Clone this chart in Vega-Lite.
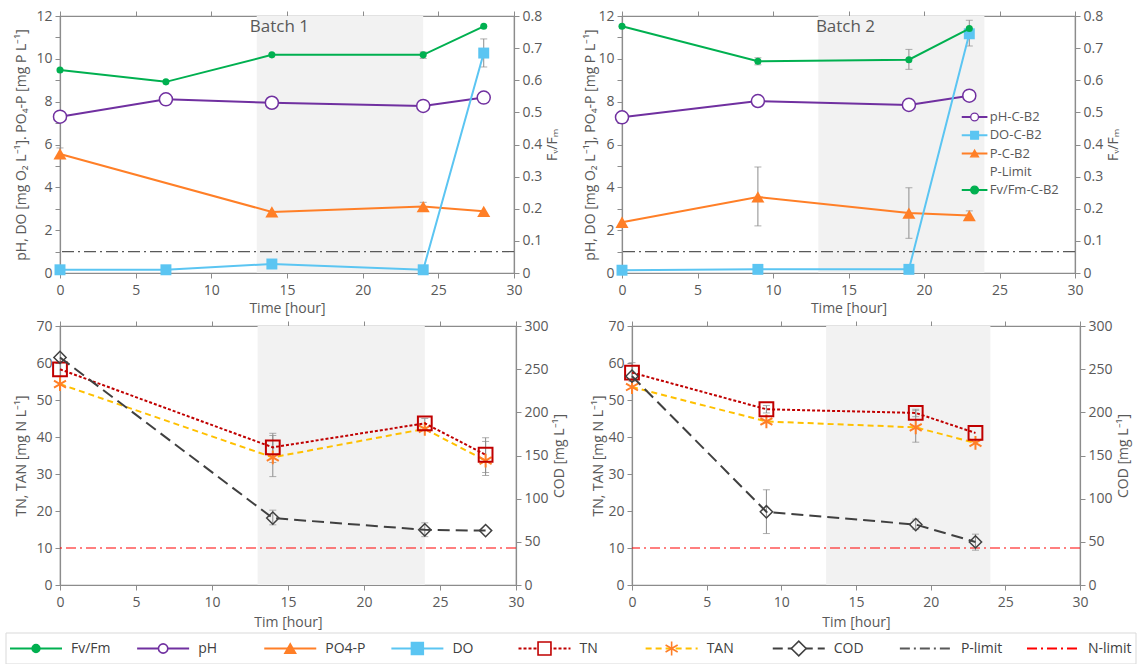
{
  "$schema": "https://vega.github.io/schema/vega-lite/v6.json",
  "background": "white",
  "padding": {"left": 5, "top": 8, "right": 3, "bottom": 0},
  "config": {
    "font": "Open Sans",
    "view": {"stroke": null},
    "axis": {
      "grid": false,
      "domainColor": "#8c8c8c",
      "tickColor": "#8c8c8c",
      "domainWidth": 1.2,
      "labelColor": "#595959",
      "titleColor": "#595959",
      "labelFontSize": 14,
      "titleFontSize": 14,
      "titleFontWeight": "normal",
      "tickSize": 5,
      "labelPadding": 3,
      "labelFlush": false,
      "labelOverlap": false
    },
    "axisX": {"labelPadding": 5}
  },
  "datasets": {
    "batch1": [
      {"t": 0, "s": "pH", "v": 7.3}, {"t": 7, "s": "pH", "v": 8.11}, {"t": 14, "s": "pH", "v": 7.95}, {"t": 24, "s": "pH", "v": 7.8}, {"t": 28, "s": "pH", "v": 8.19},
      {"t": 0, "s": "PO4-P", "v": 5.56}, {"t": 14, "s": "PO4-P", "v": 2.85}, {"t": 24, "s": "PO4-P", "v": 3.1}, {"t": 28, "s": "PO4-P", "v": 2.88},
      {"t": 0, "s": "DO", "v": 0.15}, {"t": 7, "s": "DO", "v": 0.15}, {"t": 14, "s": "DO", "v": 0.42}, {"t": 24, "s": "DO", "v": 0.15}, {"t": 28, "s": "DO", "v": 10.27},
      {"t": 0, "s": "Fv/Fm", "v": 0.632}, {"t": 7, "s": "Fv/Fm", "v": 0.595}, {"t": 14, "s": "Fv/Fm", "v": 0.679}, {"t": 24, "s": "Fv/Fm", "v": 0.679}, {"t": 28, "s": "Fv/Fm", "v": 0.768}
    ],
    "batch1_err": [
      {"t": 0, "s": "PO4-P", "lo": 5.4, "hi": 5.84},
      {"t": 24, "s": "PO4-P", "lo": 2.95, "hi": 3.3},
      {"t": 28, "s": "DO", "lo": 9.62, "hi": 10.93},
      {"t": 24, "s": "Fv/Fm", "lo": 0.668, "hi": 0.688}
    ],
    "batch2": [
      {"t": 0, "s": "pH", "v": 7.27}, {"t": 9, "s": "pH", "v": 8.03}, {"t": 19, "s": "pH", "v": 7.85}, {"t": 23, "s": "pH", "v": 8.28},
      {"t": 0, "s": "PO4-P", "v": 2.37}, {"t": 9, "s": "PO4-P", "v": 3.55}, {"t": 19, "s": "PO4-P", "v": 2.8}, {"t": 23, "s": "PO4-P", "v": 2.68},
      {"t": 0, "s": "DO", "v": 0.13}, {"t": 9, "s": "DO", "v": 0.17}, {"t": 19, "s": "DO", "v": 0.17}, {"t": 23, "s": "DO", "v": 11.17},
      {"t": 0, "s": "Fv/Fm", "v": 0.768}, {"t": 9, "s": "Fv/Fm", "v": 0.659}, {"t": 19, "s": "Fv/Fm", "v": 0.664}, {"t": 23, "s": "Fv/Fm", "v": 0.761}
    ],
    "batch2_err": [
      {"t": 9, "s": "PO4-P", "lo": 2.2, "hi": 4.95},
      {"t": 19, "s": "PO4-P", "lo": 1.62, "hi": 3.98},
      {"t": 23, "s": "PO4-P", "lo": 2.52, "hi": 2.9},
      {"t": 23, "s": "DO", "lo": 10.6, "hi": 11.8},
      {"t": 9, "s": "Fv/Fm", "lo": 0.648, "hi": 0.67},
      {"t": 19, "s": "Fv/Fm", "lo": 0.634, "hi": 0.696}
    ],
    "nitro1": [
      {"t": 0, "s": "TN", "v": 58.3}, {"t": 14, "s": "TN", "v": 37.2}, {"t": 24, "s": "TN", "v": 43.7}, {"t": 28, "s": "TN", "v": 35.2},
      {"t": 0, "s": "TAN", "v": 54.3}, {"t": 14, "s": "TAN", "v": 34.5}, {"t": 24, "s": "TAN", "v": 42.2}, {"t": 28, "s": "TAN", "v": 33.6},
      {"t": 0, "s": "COD", "v": 263.6}, {"t": 14, "s": "COD", "v": 77.5}, {"t": 24, "s": "COD", "v": 63.9}, {"t": 28, "s": "COD", "v": 63.0}
    ],
    "nitro1_err": [
      {"t": 14, "s": "TN", "lo": 33.1, "hi": 41.0},
      {"t": 14, "s": "TAN", "lo": 29.3, "hi": 40.4},
      {"t": 24, "s": "TN", "lo": 42.5, "hi": 45.0},
      {"t": 28, "s": "TN", "lo": 30.4, "hi": 39.8},
      {"t": 28, "s": "TAN", "lo": 29.6, "hi": 38.8},
      {"t": 14, "s": "COD", "lo": 69.7, "hi": 86.7},
      {"t": 24, "s": "COD", "lo": 56.0, "hi": 72.0}
    ],
    "nitro2": [
      {"t": 0, "s": "TN", "v": 57.4}, {"t": 9, "s": "TN", "v": 47.5}, {"t": 19, "s": "TN", "v": 46.5}, {"t": 23, "s": "TN", "v": 41.1},
      {"t": 0, "s": "TAN", "v": 53.5}, {"t": 9, "s": "TAN", "v": 44.2}, {"t": 19, "s": "TAN", "v": 42.6}, {"t": 23, "s": "TAN", "v": 38.4},
      {"t": 0, "s": "COD", "v": 241.9}, {"t": 9, "s": "COD", "v": 84.8}, {"t": 19, "s": "COD", "v": 70.0}, {"t": 23, "s": "COD", "v": 49.9}
    ],
    "nitro2_err": [
      {"t": 0, "s": "TN", "lo": 55.0, "hi": 60.1},
      {"t": 9, "s": "TN", "lo": 46.5, "hi": 48.5},
      {"t": 19, "s": "TN", "lo": 45.5, "hi": 47.5},
      {"t": 19, "s": "TAN", "lo": 38.6, "hi": 47.2},
      {"t": 9, "s": "COD", "lo": 59.6, "hi": 110.3},
      {"t": 19, "s": "COD", "lo": 64.6, "hi": 76.3},
      {"t": 23, "s": "COD", "lo": 40.3, "hi": 58.9}
    ]
  },
  "resolve": {"scale": {"color": "independent", "fill": "independent", "stroke": "independent", "shape": "independent", "size": "independent", "strokeDash": "independent"}},
  "spacing": 2,
  "vconcat": [
    {
      "spacing": 22,
      "hconcat": [
        {
          "width": 454, "height": 257,
          "view": {"stroke": "#8c8c8c", "strokeWidth": 1.2},
          "resolve": {"scale": {"y": "independent"}},
          "layer": [
            {"data": {"values": [{"t": 13, "t2": 24}]}, "mark": {"type": "rect", "color": "#f2f2f2"},
             "encoding": {"x": {"field": "t", "type": "quantitative", "scale": {"domain": [0, 30], "nice": false}, "axis": {"orient": "bottom", "values": [0, 5, 10, 15, 20, 25, 30], "title": "Time [hour]", "titlePadding": 4}}, "x2": {"field": "t2"}}},
            {"data": {"values": [{"limit": 1}]}, "mark": {"type": "rule", "color": "#595959", "strokeWidth": 1.2, "strokeDash": [12, 4, 2, 4]},
             "encoding": {"y": {"field": "limit", "type": "quantitative", "scale": {"domain": [0, 12], "nice": false}, "axis": {"orient": "left", "values": [0, 1, 2, 3, 4, 5, 6, 7, 8, 9, 10, 11, 12], "labelExpr": "datum.value % 2 === 0 ? datum.label : ''", "title": "pH, DO [mg O₂ L⁻¹]. PO₄-P [mg P L⁻¹]", "titlePadding": 7}}}},
            {"data": {"name": "batch1_err"}, "transform": [{"filter": "datum.s !== 'Fv/Fm'"}],
             "mark": {"type": "rule", "color": "#8c8c8c", "strokeWidth": 1},
             "encoding": {"x": {"field": "t", "type": "quantitative", "scale": {"domain": [0, 30], "nice": false}, "axis": null}, "y": {"field": "lo", "type": "quantitative", "scale": {"domain": [0, 12], "nice": false}, "axis": null}, "y2": {"field": "hi"}}},
            {"data": {"name": "batch1_err"}, "transform": [{"filter": "datum.s !== 'Fv/Fm'"}],
             "mark": {"type": "tick", "orient": "horizontal", "color": "#8c8c8c", "size": 7, "thickness": 1},
             "encoding": {"x": {"field": "t", "type": "quantitative", "scale": {"domain": [0, 30], "nice": false}, "axis": null}, "y": {"field": "lo", "type": "quantitative", "scale": {"domain": [0, 12], "nice": false}, "axis": null}}},
            {"data": {"name": "batch1_err"}, "transform": [{"filter": "datum.s !== 'Fv/Fm'"}],
             "mark": {"type": "tick", "orient": "horizontal", "color": "#8c8c8c", "size": 7, "thickness": 1},
             "encoding": {"x": {"field": "t", "type": "quantitative", "scale": {"domain": [0, 30], "nice": false}, "axis": null}, "y": {"field": "hi", "type": "quantitative", "scale": {"domain": [0, 12], "nice": false}, "axis": null}}},
            {"data": {"name": "batch1"}, "transform": [{"filter": "datum.s === 'PO4-P'"}],
             "mark": {"type": "line", "color": "#ff7f27", "strokeWidth": 2, "point": {"filled": true, "shape": "triangle-up", "size": 170, "color": "#ff7f27"}},
             "encoding": {"x": {"field": "t", "type": "quantitative", "scale": {"domain": [0, 30], "nice": false}, "axis": null}, "y": {"field": "v", "type": "quantitative", "scale": {"domain": [0, 12], "nice": false}, "axis": null}}},
            {"data": {"name": "batch1"}, "transform": [{"filter": "datum.s === 'pH'"}],
             "mark": {"type": "line", "color": "#7030a0", "strokeWidth": 2, "point": {"filled": true, "fill": "white", "stroke": "#7030a0", "strokeWidth": 1.5, "size": 170}},
             "encoding": {"x": {"field": "t", "type": "quantitative", "scale": {"domain": [0, 30], "nice": false}, "axis": null}, "y": {"field": "v", "type": "quantitative", "scale": {"domain": [0, 12], "nice": false}, "axis": null}}},
            {"data": {"name": "batch1"}, "transform": [{"filter": "datum.s === 'DO'"}],
             "mark": {"type": "line", "color": "#5bc5f2", "strokeWidth": 2, "point": {"filled": true, "shape": "square", "size": 120, "color": "#5bc5f2"}},
             "encoding": {"x": {"field": "t", "type": "quantitative", "scale": {"domain": [0, 30], "nice": false}, "axis": null}, "y": {"field": "v", "type": "quantitative", "scale": {"domain": [0, 12], "nice": false}, "axis": null}}},
            {"data": {"values": [{"batch": "Batch 1"}]}, "mark": {"type": "text", "fontSize": 17, "color": "#595959"},
             "encoding": {"x": {"datum": 14.5, "type": "quantitative", "scale": {"domain": [0, 30], "nice": false}, "axis": null}, "y": {"datum": 11.5, "type": "quantitative", "scale": {"domain": [0, 12], "nice": false}, "axis": null}, "text": {"field": "batch"}}},
            {"data": {"name": "batch1_err"}, "transform": [{"filter": "datum.s === 'Fv/Fm'"}],
             "mark": {"type": "rule", "color": "#8c8c8c", "strokeWidth": 1},
             "encoding": {"x": {"field": "t", "type": "quantitative", "scale": {"domain": [0, 30], "nice": false}, "axis": null}, "y": {"field": "lo", "type": "quantitative", "scale": {"domain": [0, 0.8], "nice": false}, "axis": null}, "y2": {"field": "hi"}}},
            {"data": {"name": "batch1_err"}, "transform": [{"filter": "datum.s === 'Fv/Fm'"}],
             "mark": {"type": "tick", "orient": "horizontal", "color": "#8c8c8c", "size": 7, "thickness": 1},
             "encoding": {"x": {"field": "t", "type": "quantitative", "scale": {"domain": [0, 30], "nice": false}, "axis": null}, "y": {"field": "lo", "type": "quantitative", "scale": {"domain": [0, 0.8], "nice": false}, "axis": null}}},
            {"data": {"name": "batch1_err"}, "transform": [{"filter": "datum.s === 'Fv/Fm'"}],
             "mark": {"type": "tick", "orient": "horizontal", "color": "#8c8c8c", "size": 7, "thickness": 1},
             "encoding": {"x": {"field": "t", "type": "quantitative", "scale": {"domain": [0, 30], "nice": false}, "axis": null}, "y": {"field": "hi", "type": "quantitative", "scale": {"domain": [0, 0.8], "nice": false}, "axis": null}}},
            {"data": {"name": "batch1"}, "transform": [{"filter": "datum.s === 'Fv/Fm'"}],
             "mark": {"type": "line", "color": "#00b050", "strokeWidth": 2, "point": {"filled": true, "size": 50, "color": "#00b050"}},
             "encoding": {
               "x": {"field": "t", "type": "quantitative", "scale": {"domain": [0, 30], "nice": false}, "axis": {"orient": "top", "values": [0, 5, 10, 15, 20, 25, 30], "labels": false, "title": null}},
               "y": {"field": "v", "type": "quantitative", "scale": {"domain": [0, 0.8], "nice": false}, "axis": {"orient": "right", "values": [0, 0.1, 0.2, 0.3, 0.4, 0.5, 0.6, 0.7, 0.8], "labelExpr": "datum.value === 0 ? '0' : format(datum.value, '.1f')", "title": "Fᵥ/Fₘ", "titleAngle": 270, "titleBaseline": "top", "titlePadding": 4}}
             }}
          ]
        },
        {
          "width": 453, "height": 257,
          "view": {"stroke": "#8c8c8c", "strokeWidth": 1.2},
          "resolve": {"scale": {"y": "independent"}},
          "layer": [
            {"data": {"values": [{"t": 13, "t2": 24}]}, "mark": {"type": "rect", "color": "#f2f2f2"},
             "encoding": {"x": {"field": "t", "type": "quantitative", "scale": {"domain": [0, 30], "nice": false}, "axis": {"orient": "bottom", "values": [0, 5, 10, 15, 20, 25, 30], "title": "Time [hour]", "titlePadding": 4}}, "x2": {"field": "t2"}}},
            {"data": {"values": [{"limit": 1}]}, "mark": {"type": "rule", "color": "#595959", "strokeWidth": 1.2, "strokeDash": [12, 4, 2, 4]},
             "encoding": {"y": {"field": "limit", "type": "quantitative", "scale": {"domain": [0, 12], "nice": false}, "axis": {"orient": "left", "values": [0, 1, 2, 3, 4, 5, 6, 7, 8, 9, 10, 11, 12], "labelExpr": "datum.value % 2 === 0 ? datum.label : ''", "title": "pH, DO [mg O₂ L⁻¹], PO₄-P [mg P L⁻¹]", "titlePadding": 0}}}},
            {"data": {"name": "batch2_err"}, "transform": [{"filter": "datum.s !== 'Fv/Fm'"}],
             "mark": {"type": "rule", "color": "#8c8c8c", "strokeWidth": 1},
             "encoding": {"x": {"field": "t", "type": "quantitative", "scale": {"domain": [0, 30], "nice": false}, "axis": null}, "y": {"field": "lo", "type": "quantitative", "scale": {"domain": [0, 12], "nice": false}, "axis": null}, "y2": {"field": "hi"}}},
            {"data": {"name": "batch2_err"}, "transform": [{"filter": "datum.s !== 'Fv/Fm'"}],
             "mark": {"type": "tick", "orient": "horizontal", "color": "#8c8c8c", "size": 7, "thickness": 1},
             "encoding": {"x": {"field": "t", "type": "quantitative", "scale": {"domain": [0, 30], "nice": false}, "axis": null}, "y": {"field": "lo", "type": "quantitative", "scale": {"domain": [0, 12], "nice": false}, "axis": null}}},
            {"data": {"name": "batch2_err"}, "transform": [{"filter": "datum.s !== 'Fv/Fm'"}],
             "mark": {"type": "tick", "orient": "horizontal", "color": "#8c8c8c", "size": 7, "thickness": 1},
             "encoding": {"x": {"field": "t", "type": "quantitative", "scale": {"domain": [0, 30], "nice": false}, "axis": null}, "y": {"field": "hi", "type": "quantitative", "scale": {"domain": [0, 12], "nice": false}, "axis": null}}},
            {"data": {"name": "batch2"}, "transform": [{"filter": "datum.s === 'PO4-P'"}],
             "mark": {"type": "line", "color": "#ff7f27", "strokeWidth": 2, "point": {"filled": true, "shape": "triangle-up", "size": 170, "color": "#ff7f27"}},
             "encoding": {"x": {"field": "t", "type": "quantitative", "scale": {"domain": [0, 30], "nice": false}, "axis": null}, "y": {"field": "v", "type": "quantitative", "scale": {"domain": [0, 12], "nice": false}, "axis": null}}},
            {"data": {"name": "batch2"}, "transform": [{"filter": "datum.s === 'pH'"}],
             "mark": {"type": "line", "color": "#7030a0", "strokeWidth": 2, "point": {"filled": true, "fill": "white", "stroke": "#7030a0", "strokeWidth": 1.5, "size": 170}},
             "encoding": {"x": {"field": "t", "type": "quantitative", "scale": {"domain": [0, 30], "nice": false}, "axis": null}, "y": {"field": "v", "type": "quantitative", "scale": {"domain": [0, 12], "nice": false}, "axis": null}}},
            {"data": {"name": "batch2"}, "transform": [{"filter": "datum.s === 'DO'"}],
             "mark": {"type": "line", "color": "#5bc5f2", "strokeWidth": 2, "point": {"filled": true, "shape": "square", "size": 120, "color": "#5bc5f2"}},
             "encoding": {"x": {"field": "t", "type": "quantitative", "scale": {"domain": [0, 30], "nice": false}, "axis": null}, "y": {"field": "v", "type": "quantitative", "scale": {"domain": [0, 12], "nice": false}, "axis": null}}},
            {"data": {"values": [{"batch": "Batch 2"}]}, "mark": {"type": "text", "fontSize": 17, "color": "#595959"},
             "encoding": {"x": {"datum": 14.8, "type": "quantitative", "scale": {"domain": [0, 30], "nice": false}, "axis": null}, "y": {"datum": 11.5, "type": "quantitative", "scale": {"domain": [0, 12], "nice": false}, "axis": null}, "text": {"field": "batch"}}},
            {"data": {"name": "batch2_err"}, "transform": [{"filter": "datum.s === 'Fv/Fm'"}],
             "mark": {"type": "rule", "color": "#8c8c8c", "strokeWidth": 1},
             "encoding": {"x": {"field": "t", "type": "quantitative", "scale": {"domain": [0, 30], "nice": false}, "axis": null}, "y": {"field": "lo", "type": "quantitative", "scale": {"domain": [0, 0.8], "nice": false}, "axis": null}, "y2": {"field": "hi"}}},
            {"data": {"name": "batch2_err"}, "transform": [{"filter": "datum.s === 'Fv/Fm'"}],
             "mark": {"type": "tick", "orient": "horizontal", "color": "#8c8c8c", "size": 7, "thickness": 1},
             "encoding": {"x": {"field": "t", "type": "quantitative", "scale": {"domain": [0, 30], "nice": false}, "axis": null}, "y": {"field": "lo", "type": "quantitative", "scale": {"domain": [0, 0.8], "nice": false}, "axis": null}}},
            {"data": {"name": "batch2_err"}, "transform": [{"filter": "datum.s === 'Fv/Fm'"}],
             "mark": {"type": "tick", "orient": "horizontal", "color": "#8c8c8c", "size": 7, "thickness": 1},
             "encoding": {"x": {"field": "t", "type": "quantitative", "scale": {"domain": [0, 30], "nice": false}, "axis": null}, "y": {"field": "hi", "type": "quantitative", "scale": {"domain": [0, 0.8], "nice": false}, "axis": null}}},
            {"data": {"name": "batch2"}, "transform": [{"filter": "datum.s === 'Fv/Fm'"}],
             "mark": {"type": "line", "color": "#00b050", "strokeWidth": 2, "point": {"filled": true, "size": 50, "color": "#00b050"}},
             "encoding": {
               "x": {"field": "t", "type": "quantitative", "scale": {"domain": [0, 30], "nice": false}, "axis": {"orient": "top", "values": [0, 5, 10, 15, 20, 25, 30], "labels": false, "title": null}},
               "y": {"field": "v", "type": "quantitative", "scale": {"domain": [0, 0.8], "nice": false}, "axis": {"orient": "right", "values": [0, 0.1, 0.2, 0.3, 0.4, 0.5, 0.6, 0.7, 0.8], "labelExpr": "datum.value === 0 ? '0' : format(datum.value, '.1f')", "title": "Fᵥ/Fₘ", "titleAngle": 270, "titleBaseline": "top", "titlePadding": 4}}
             }},
            {"data": {"values": [{"k": "pH-C-B2"}, {"k": "DO-C-B2"}, {"k": "P-C-B2"}, {"k": "Fv/Fm-C-B2"}]},
             "mark": {"type": "rule", "strokeWidth": 2},
             "encoding": {
               "x": {"datum": 22.5, "type": "quantitative", "scale": {"domain": [0, 30], "nice": false}, "axis": null},
               "x2": {"datum": 24.2},
               "y": {"field": "k", "type": "nominal", "sort": null, "scale": {"type": "point", "padding": 0, "domain": ["pH-C-B2", "DO-C-B2", "P-C-B2", "P-Limit", "Fv/Fm-C-B2"], "range": [101, 174]}, "axis": null},
               "color": {"field": "k", "type": "nominal", "scale": {"domain": ["pH-C-B2", "DO-C-B2", "P-C-B2", "Fv/Fm-C-B2"], "range": ["#7030a0", "#5bc5f2", "#ff7f27", "#00b050"]}, "legend": null}
             }},
            {"data": {"values": [{"k": "pH-C-B2"}, {"k": "DO-C-B2"}, {"k": "P-C-B2"}, {"k": "Fv/Fm-C-B2"}]},
             "mark": {"type": "point", "filled": true, "size": 60, "strokeWidth": 1.3, "opacity": 1},
             "encoding": {
               "x": {"datum": 23.35, "type": "quantitative", "scale": {"domain": [0, 30], "nice": false}, "axis": null},
               "y": {"field": "k", "type": "nominal", "sort": null, "scale": {"type": "point", "padding": 0, "domain": ["pH-C-B2", "DO-C-B2", "P-C-B2", "P-Limit", "Fv/Fm-C-B2"], "range": [101, 174]}, "axis": null},
               "shape": {"field": "k", "type": "nominal", "scale": {"domain": ["pH-C-B2", "DO-C-B2", "P-C-B2", "Fv/Fm-C-B2"], "range": ["circle", "square", "triangle-up", "circle"]}, "legend": null},
               "fill": {"field": "k", "type": "nominal", "scale": {"domain": ["pH-C-B2", "DO-C-B2", "P-C-B2", "Fv/Fm-C-B2"], "range": ["white", "#5bc5f2", "#ff7f27", "#00b050"]}, "legend": null},
               "stroke": {"field": "k", "type": "nominal", "scale": {"domain": ["pH-C-B2", "DO-C-B2", "P-C-B2", "Fv/Fm-C-B2"], "range": ["#7030a0", "#5bc5f2", "#ff7f27", "#00b050"]}, "legend": null}
             }},
            {"data": {"values": [{"k": "pH-C-B2"}, {"k": "DO-C-B2"}, {"k": "P-C-B2"}, {"k": "P-Limit"}, {"k": "Fv/Fm-C-B2"}]},
             "mark": {"type": "text", "align": "left", "baseline": "middle", "fontSize": 13, "color": "#595959"},
             "encoding": {
               "x": {"datum": 24.35, "type": "quantitative", "scale": {"domain": [0, 30], "nice": false}, "axis": null},
               "y": {"field": "k", "type": "nominal", "sort": null, "scale": {"type": "point", "padding": 0, "domain": ["pH-C-B2", "DO-C-B2", "P-C-B2", "P-Limit", "Fv/Fm-C-B2"], "range": [101, 174]}, "axis": null},
               "text": {"field": "k"}
             }}
          ]
        }
      ]
    },
    {
      "spacing": 24,
      "hconcat": [
        {
          "width": 456, "height": 259,
          "view": {"stroke": "#8c8c8c", "strokeWidth": 1.2},
          "resolve": {"scale": {"y": "independent"}},
          "layer": [
            {"data": {"values": [{"t": 13, "t2": 24}]}, "mark": {"type": "rect", "color": "#f2f2f2"},
             "encoding": {"x": {"field": "t", "type": "quantitative", "scale": {"domain": [0, 30], "nice": false}, "axis": {"orient": "bottom", "values": [0, 5, 10, 15, 20, 25, 30], "title": "Tim [hour]", "titlePadding": 6}}, "x2": {"field": "t2"}}},
            {"data": {"values": [{"limit": 10}]}, "mark": {"type": "rule", "color": "#ff0000", "strokeWidth": 1.2, "strokeDash": [10, 4, 2, 4]},
             "encoding": {"y": {"field": "limit", "type": "quantitative", "scale": {"domain": [0, 70], "nice": false}, "axis": {"orient": "left", "values": [0, 10, 20, 30, 40, 50, 60, 70], "title": "TN, TAN [mg N L⁻¹]", "titlePadding": 7}}}},
            {"data": {"name": "nitro1_err"}, "transform": [{"filter": "datum.s !== 'COD'"}],
             "mark": {"type": "rule", "color": "#8c8c8c", "strokeWidth": 1},
             "encoding": {"x": {"field": "t", "type": "quantitative", "scale": {"domain": [0, 30], "nice": false}, "axis": null}, "y": {"field": "lo", "type": "quantitative", "scale": {"domain": [0, 70], "nice": false}, "axis": null}, "y2": {"field": "hi"}}},
            {"data": {"name": "nitro1_err"}, "transform": [{"filter": "datum.s !== 'COD'"}],
             "mark": {"type": "tick", "orient": "horizontal", "color": "#8c8c8c", "size": 7, "thickness": 1},
             "encoding": {"x": {"field": "t", "type": "quantitative", "scale": {"domain": [0, 30], "nice": false}, "axis": null}, "y": {"field": "lo", "type": "quantitative", "scale": {"domain": [0, 70], "nice": false}, "axis": null}}},
            {"data": {"name": "nitro1_err"}, "transform": [{"filter": "datum.s !== 'COD'"}],
             "mark": {"type": "tick", "orient": "horizontal", "color": "#8c8c8c", "size": 7, "thickness": 1},
             "encoding": {"x": {"field": "t", "type": "quantitative", "scale": {"domain": [0, 30], "nice": false}, "axis": null}, "y": {"field": "hi", "type": "quantitative", "scale": {"domain": [0, 70], "nice": false}, "axis": null}}},
            {"data": {"name": "nitro1"}, "transform": [{"filter": "datum.s === 'TAN'"}],
             "mark": {"type": "line", "color": "#ffc000", "strokeWidth": 2, "strokeDash": [6, 4], "point": {"filled": false, "shape": "M0,-1L0,1M-0.87,-0.5L0.87,0.5M-0.87,0.5L0.87,-0.5", "size": 190, "stroke": "#ff7f27", "strokeWidth": 2}},
             "encoding": {"x": {"field": "t", "type": "quantitative", "scale": {"domain": [0, 30], "nice": false}, "axis": null}, "y": {"field": "v", "type": "quantitative", "scale": {"domain": [0, 70], "nice": false}, "axis": null}}},
            {"data": {"name": "nitro1"}, "transform": [{"filter": "datum.s === 'TN'"}],
             "mark": {"type": "line", "color": "#c00000", "strokeWidth": 2, "strokeDash": [3, 2], "point": {"filled": false, "shape": "square", "size": 190, "stroke": "#c00000", "strokeWidth": 2}},
             "encoding": {"x": {"field": "t", "type": "quantitative", "scale": {"domain": [0, 30], "nice": false}, "axis": null}, "y": {"field": "v", "type": "quantitative", "scale": {"domain": [0, 70], "nice": false}, "axis": null}}},
            {"data": {"name": "nitro1_err"}, "transform": [{"filter": "datum.s === 'COD'"}],
             "mark": {"type": "rule", "color": "#8c8c8c", "strokeWidth": 1},
             "encoding": {"x": {"field": "t", "type": "quantitative", "scale": {"domain": [0, 30], "nice": false}, "axis": null}, "y": {"field": "lo", "type": "quantitative", "scale": {"domain": [0, 300], "nice": false}, "axis": null}, "y2": {"field": "hi"}}},
            {"data": {"name": "nitro1_err"}, "transform": [{"filter": "datum.s === 'COD'"}],
             "mark": {"type": "tick", "orient": "horizontal", "color": "#8c8c8c", "size": 7, "thickness": 1},
             "encoding": {"x": {"field": "t", "type": "quantitative", "scale": {"domain": [0, 30], "nice": false}, "axis": null}, "y": {"field": "lo", "type": "quantitative", "scale": {"domain": [0, 300], "nice": false}, "axis": null}}},
            {"data": {"name": "nitro1_err"}, "transform": [{"filter": "datum.s === 'COD'"}],
             "mark": {"type": "tick", "orient": "horizontal", "color": "#8c8c8c", "size": 7, "thickness": 1},
             "encoding": {"x": {"field": "t", "type": "quantitative", "scale": {"domain": [0, 30], "nice": false}, "axis": null}, "y": {"field": "hi", "type": "quantitative", "scale": {"domain": [0, 300], "nice": false}, "axis": null}}},
            {"data": {"name": "nitro1"}, "transform": [{"filter": "datum.s === 'COD'"}],
             "mark": {"type": "line", "color": "#404040", "strokeWidth": 2, "strokeDash": [12, 6], "point": {"filled": false, "shape": "diamond", "size": 150, "stroke": "#404040", "strokeWidth": 1.5}},
             "encoding": {
               "x": {"field": "t", "type": "quantitative", "scale": {"domain": [0, 30], "nice": false}, "axis": {"orient": "top", "values": [0, 5, 10, 15, 20, 25, 30], "labels": false, "title": null}},
               "y": {"field": "v", "type": "quantitative", "scale": {"domain": [0, 300], "nice": false}, "axis": {"orient": "right", "values": [0, 50, 100, 150, 200, 250, 300], "title": "COD [mg L⁻¹]", "titleAngle": 270, "titleBaseline": "top", "titlePadding": 4}}
             }}
          ]
        },
        {
          "width": 448, "height": 259,
          "view": {"stroke": "#8c8c8c", "strokeWidth": 1.2},
          "resolve": {"scale": {"y": "independent"}},
          "layer": [
            {"data": {"values": [{"t": 13, "t2": 24}]}, "mark": {"type": "rect", "color": "#f2f2f2"},
             "encoding": {"x": {"field": "t", "type": "quantitative", "scale": {"domain": [0, 30], "nice": false}, "axis": {"orient": "bottom", "values": [0, 5, 10, 15, 20, 25, 30], "title": "Tim [hour]", "titlePadding": 6}}, "x2": {"field": "t2"}}},
            {"data": {"values": [{"limit": 10}]}, "mark": {"type": "rule", "color": "#ff0000", "strokeWidth": 1.2, "strokeDash": [10, 4, 2, 4]},
             "encoding": {"y": {"field": "limit", "type": "quantitative", "scale": {"domain": [0, 70], "nice": false}, "axis": {"orient": "left", "values": [0, 10, 20, 30, 40, 50, 60, 70], "title": "TN, TAN [mg N L⁻¹]", "titlePadding": 2}}}},
            {"data": {"name": "nitro2_err"}, "transform": [{"filter": "datum.s !== 'COD'"}],
             "mark": {"type": "rule", "color": "#8c8c8c", "strokeWidth": 1},
             "encoding": {"x": {"field": "t", "type": "quantitative", "scale": {"domain": [0, 30], "nice": false}, "axis": null}, "y": {"field": "lo", "type": "quantitative", "scale": {"domain": [0, 70], "nice": false}, "axis": null}, "y2": {"field": "hi"}}},
            {"data": {"name": "nitro2_err"}, "transform": [{"filter": "datum.s !== 'COD'"}],
             "mark": {"type": "tick", "orient": "horizontal", "color": "#8c8c8c", "size": 7, "thickness": 1},
             "encoding": {"x": {"field": "t", "type": "quantitative", "scale": {"domain": [0, 30], "nice": false}, "axis": null}, "y": {"field": "lo", "type": "quantitative", "scale": {"domain": [0, 70], "nice": false}, "axis": null}}},
            {"data": {"name": "nitro2_err"}, "transform": [{"filter": "datum.s !== 'COD'"}],
             "mark": {"type": "tick", "orient": "horizontal", "color": "#8c8c8c", "size": 7, "thickness": 1},
             "encoding": {"x": {"field": "t", "type": "quantitative", "scale": {"domain": [0, 30], "nice": false}, "axis": null}, "y": {"field": "hi", "type": "quantitative", "scale": {"domain": [0, 70], "nice": false}, "axis": null}}},
            {"data": {"name": "nitro2"}, "transform": [{"filter": "datum.s === 'TAN'"}],
             "mark": {"type": "line", "color": "#ffc000", "strokeWidth": 2, "strokeDash": [6, 4], "point": {"filled": false, "shape": "M0,-1L0,1M-0.87,-0.5L0.87,0.5M-0.87,0.5L0.87,-0.5", "size": 190, "stroke": "#ff7f27", "strokeWidth": 2}},
             "encoding": {"x": {"field": "t", "type": "quantitative", "scale": {"domain": [0, 30], "nice": false}, "axis": null}, "y": {"field": "v", "type": "quantitative", "scale": {"domain": [0, 70], "nice": false}, "axis": null}}},
            {"data": {"name": "nitro2"}, "transform": [{"filter": "datum.s === 'TN'"}],
             "mark": {"type": "line", "color": "#c00000", "strokeWidth": 2, "strokeDash": [3, 2], "point": {"filled": false, "shape": "square", "size": 190, "stroke": "#c00000", "strokeWidth": 2}},
             "encoding": {"x": {"field": "t", "type": "quantitative", "scale": {"domain": [0, 30], "nice": false}, "axis": null}, "y": {"field": "v", "type": "quantitative", "scale": {"domain": [0, 70], "nice": false}, "axis": null}}},
            {"data": {"name": "nitro2_err"}, "transform": [{"filter": "datum.s === 'COD'"}],
             "mark": {"type": "rule", "color": "#8c8c8c", "strokeWidth": 1},
             "encoding": {"x": {"field": "t", "type": "quantitative", "scale": {"domain": [0, 30], "nice": false}, "axis": null}, "y": {"field": "lo", "type": "quantitative", "scale": {"domain": [0, 300], "nice": false}, "axis": null}, "y2": {"field": "hi"}}},
            {"data": {"name": "nitro2_err"}, "transform": [{"filter": "datum.s === 'COD'"}],
             "mark": {"type": "tick", "orient": "horizontal", "color": "#8c8c8c", "size": 7, "thickness": 1},
             "encoding": {"x": {"field": "t", "type": "quantitative", "scale": {"domain": [0, 30], "nice": false}, "axis": null}, "y": {"field": "lo", "type": "quantitative", "scale": {"domain": [0, 300], "nice": false}, "axis": null}}},
            {"data": {"name": "nitro2_err"}, "transform": [{"filter": "datum.s === 'COD'"}],
             "mark": {"type": "tick", "orient": "horizontal", "color": "#8c8c8c", "size": 7, "thickness": 1},
             "encoding": {"x": {"field": "t", "type": "quantitative", "scale": {"domain": [0, 30], "nice": false}, "axis": null}, "y": {"field": "hi", "type": "quantitative", "scale": {"domain": [0, 300], "nice": false}, "axis": null}}},
            {"data": {"name": "nitro2"}, "transform": [{"filter": "datum.s === 'COD'"}],
             "mark": {"type": "line", "color": "#404040", "strokeWidth": 2, "strokeDash": [12, 6], "point": {"filled": false, "shape": "diamond", "size": 150, "stroke": "#404040", "strokeWidth": 1.5}},
             "encoding": {
               "x": {"field": "t", "type": "quantitative", "scale": {"domain": [0, 30], "nice": false}, "axis": {"orient": "top", "values": [0, 5, 10, 15, 20, 25, 30], "labels": false, "title": null}},
               "y": {"field": "v", "type": "quantitative", "scale": {"domain": [0, 300], "nice": false}, "axis": {"orient": "right", "values": [0, 50, 100, 150, 200, 250, 300], "title": "COD [mg L⁻¹]", "titleAngle": 270, "titleBaseline": "top", "titlePadding": 4}}
             }}
          ]
        }
      ]
    },
    {
      "width": 1076, "height": 31,
      "view": {"stroke": null},
      "data": {"values": [{"k": "Fv/Fm"}, {"k": "pH"}, {"k": "PO4-P"}, {"k": "DO"}, {"k": "TN"}, {"k": "TAN"}, {"k": "COD"}, {"k": "P-limit"}, {"k": "N-limit"}]},
      "encoding": {
        "x": {"field": "k", "type": "nominal", "sort": null, "scale": {"type": "point", "padding": 0, "domain": ["Fv/Fm", "pH", "PO4-P", "DO", "TN", "TAN", "COD", "P-limit", "N-limit"], "range": [-24, 993]}, "axis": null}
      },
      "layer": [
        {"data": {"values": [{"first": "Fv/Fm", "last": "N-limit"}]},
         "mark": {"type": "rect", "fill": "transparent", "stroke": "#d9d9d9", "strokeWidth": 1, "xOffset": -30, "x2Offset": 83},
         "encoding": {"x": {"field": "first", "type": "nominal", "sort": null, "axis": null}, "x2": {"field": "last"}}},
        {"mark": {"type": "rule", "strokeWidth": 2, "xOffset": -26, "x2Offset": 26},
         "encoding": {
           "x2": {"field": "k"},
           "y": {"datum": "row", "type": "nominal", "axis": null},
           "color": {"field": "k", "type": "nominal", "scale": {"domain": ["Fv/Fm", "pH", "PO4-P", "DO", "TN", "TAN", "COD", "P-limit", "N-limit"], "range": ["#00b050", "#7030a0", "#ff7f27", "#5bc5f2", "#c00000", "#ffc000", "#404040", "#595959", "#ff0000"]}, "legend": null},
           "strokeDash": {"field": "k", "type": "nominal", "scale": {"domain": ["Fv/Fm", "pH", "PO4-P", "DO", "TN", "TAN", "COD", "P-limit", "N-limit"], "range": [[1, 0], [1, 0], [1, 0], [1, 0], [3, 2], [6, 4], [10, 5], [10, 4, 2, 4], [10, 4, 2, 4]]}, "legend": null}
         }},
        {"transform": [{"filter": "datum.k !== 'P-limit' && datum.k !== 'N-limit'"}],
         "mark": {"type": "point", "filled": true, "strokeWidth": 1.6, "opacity": 1},
         "encoding": {
           "y": {"datum": "row", "type": "nominal", "axis": null},
           "shape": {"field": "k", "type": "nominal", "scale": {"domain": ["Fv/Fm", "pH", "PO4-P", "DO", "TN", "TAN", "COD"], "range": ["circle", "circle", "triangle-up", "square", "square", "M0,-1L0,1M-0.87,-0.5L0.87,0.5M-0.87,0.5L0.87,-0.5", "diamond"]}, "legend": null},
           "fill": {"field": "k", "type": "nominal", "scale": {"domain": ["Fv/Fm", "pH", "PO4-P", "DO", "TN", "TAN", "COD"], "range": ["#00b050", "white", "#ff7f27", "#5bc5f2", "white", "#ff7f27", "white"]}, "legend": null},
           "stroke": {"field": "k", "type": "nominal", "scale": {"domain": ["Fv/Fm", "pH", "PO4-P", "DO", "TN", "TAN", "COD"], "range": ["#00b050", "#7030a0", "#ff7f27", "#5bc5f2", "#c00000", "#ff7f27", "#404040"]}, "legend": null},
           "size": {"field": "k", "type": "nominal", "scale": {"domain": ["Fv/Fm", "pH", "PO4-P", "DO", "TN", "TAN", "COD"], "range": [60, 220, 230, 140, 230, 330, 170]}, "legend": null}
         }},
        {"mark": {"type": "text", "align": "left", "baseline": "middle", "dx": 35, "fontSize": 14, "color": "#404040"},
         "encoding": {"y": {"datum": "row", "type": "nominal", "axis": null}, "text": {"field": "k"}}}
      ]
    }
  ]
}
